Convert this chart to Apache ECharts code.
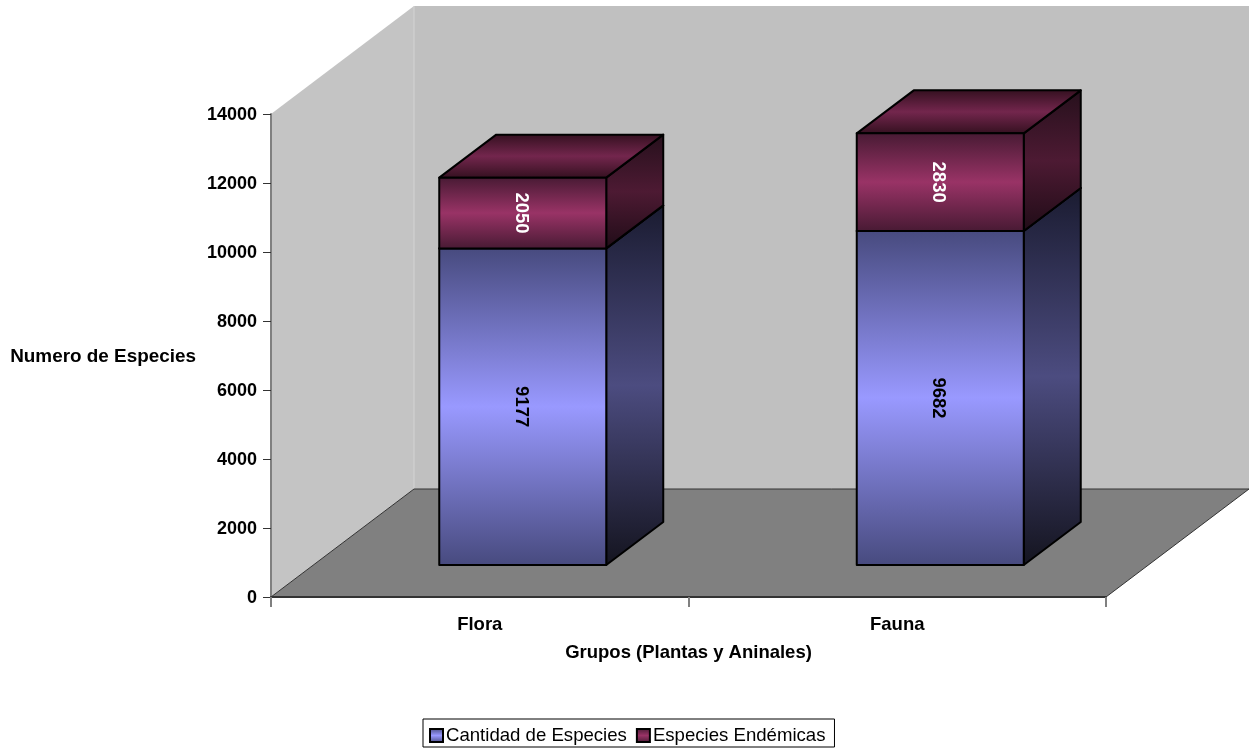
<!DOCTYPE html>
<html>
<head>
<meta charset="utf-8">
<style>html,body{margin:0;padding:0;background:#fff}#c{width:1249px;height:748px}</style>
<script src="https://cdn.jsdelivr.net/npm/echarts@6/dist/echarts.min.js"></script>
</head>
<body>
<div id="c"></div>
<script>
const categories = ['Flora', 'Fauna'];
const cantidadEspecies = [9177, 9682];
const especiesEndemicas = [2050, 2830];
const yTicks = { min: 0, max: 14000, interval: 2000 };

// Oblique projection of the depth axis, in pixels
const WALL_DEPTH = [143, 108];
const BAR_OFFSET = [43, 32];
const BAR_DEPTH = [57, 43];
const FONT = '"Liberation Sans", Arial, sans-serif';

function bands(edge, mid, edge2) {
  return { type: 'linear', x: 0, y: 0, x2: 0, y2: 1, colorStops: [
    { offset: 0, color: edge }, { offset: 0.5, color: mid }, { offset: 1, color: edge2 || edge }
  ] };
}

const blue = {
  front: bands('#474a7e', '#9999ff'),
  side: bands('#1a1b30', '#4c4c80', '#14141f'),
  top: bands('#1a1b30', '#4c4c80')
};
const maroon = {
  front: bands('#471a33', '#993366'),
  side: bands('#26101c', '#4d1a33', '#200c17'),
  top: bands('#33101f', '#73264d')
};

function barRenderer(bases, palette, labelColor) {
  return function (params, api) {
    const i = api.value(0);
    const base = bases[i];
    const val = api.value(1);
    const halfWidth = api.size([1, 0])[0] * 0.4 / 2;
    const low = api.coord([i, base]);
    const high = api.coord([i, base + val]);
    const x0 = low[0] + BAR_OFFSET[0] - halfWidth;
    const x1 = low[0] + BAR_OFFSET[0] + halfWidth;
    const yb = low[1] - BAR_OFFSET[1];
    const yt = high[1] - BAR_OFFSET[1];
    const [dx, dy] = BAR_DEPTH;
    const edge = { stroke: '#000', lineWidth: 2, lineJoin: 'round' };
    const poly = (points, fill) => ({
      type: 'polygon', shape: { points },
      style: Object.assign({ fill }, edge)
    });
    return {
      type: 'group',
      children: [
        poly([[x1, yt], [x1 + dx, yt - dy], [x1 + dx, yb - dy], [x1, yb]], palette.side),
        poly([[x0, yt], [x0 + dx, yt - dy], [x1 + dx, yt - dy], [x1, yt]], palette.top),
        poly([[x0, yt], [x1, yt], [x1, yb], [x0, yb]], palette.front),
        {
          type: 'text', x: (x0 + x1) / 2 - 2, y: (yt + yb) / 2, rotation: -Math.PI / 2,
          style: {
            text: String(val), fill: labelColor, font: 'bold 18.5px ' + FONT,
            align: 'center', verticalAlign: 'middle'
          },
          z2: 10
        }
      ]
    };
  };
}

function renderWalls(params, api) {
  const cs = params.coordSys;
  const [dx, dy] = WALL_DEPTH;
  const l = cs.x, r = cs.x + cs.width, t = cs.y, b = cs.y + cs.height;
  return {
    type: 'group',
    children: [
      { type: 'polygon', shape: { points: [[l + dx, t - dy], [r + dx, t - dy], [r + dx, b - dy], [l + dx, b - dy]] },
        style: { fill: '#c0c0c0' } },
      { type: 'polygon', shape: { points: [[l, t], [l + dx, t - dy], [l + dx, b - dy], [l, b]] },
        style: { fill: '#c4c4c4' } },
      { type: 'line', shape: { x1: l + dx, y1: t - dy, x2: l + dx, y2: b - dy },
        style: { stroke: '#d4d4d4', lineWidth: 1 } },
      { type: 'polygon', shape: { points: [[l, b], [l + dx, b - dy], [r + dx, b - dy], [r, b]] },
        style: { fill: '#808080', stroke: '#333', lineWidth: 1 } }
    ]
  };
}

const chart = echarts.init(document.getElementById('c'), null, { renderer: 'canvas' });
chart.setOption({
  animation: false,
  backgroundColor: '#fff',
  grid: { left: 271, top: 114, width: 835, height: 483 },
  legend: {
    left: 423, top: 719, orient: 'horizontal',
    data: [
      { name: 'Cantidad de Especies', itemStyle: { color: bands('#474a7e', '#9999ff'), borderColor: '#000', borderWidth: 2 } },
      { name: 'Especies Endémicas', itemStyle: { color: bands('#471a33', '#993366'), borderColor: '#000', borderWidth: 2 } }
    ],
    icon: 'rect', itemWidth: 13, itemHeight: 13, itemGap: 9,
    padding: [7, 9, 2, 6],
    borderColor: '#000', borderWidth: 1, backgroundColor: '#fff',
    textStyle: { fontFamily: FONT, fontSize: 18.6, color: '#000', padding: [0, 0, 0, -2] }
  },
  xAxis: {
    type: 'category', data: categories, z: 10,
    name: 'Grupos (Plantas y Aninales)', nameLocation: 'middle', nameGap: 46,
    nameTextStyle: { fontFamily: FONT, fontWeight: 'bold', fontSize: 18.5, color: '#000' },
    axisLine: { show: true, lineStyle: { color: '#333', width: 2 } },
    axisTick: { show: true, alignWithLabel: false, length: 10, lineStyle: { color: '#808080', width: 2 } },
    axisLabel: { fontFamily: FONT, fontWeight: 'bold', fontSize: 18.5, color: '#000', margin: 18 },
    splitLine: { show: false }
  },
  yAxis: {
    type: 'value', min: yTicks.min, max: yTicks.max, interval: yTicks.interval, z: 10,
    name: 'Numero de Especies', nameLocation: 'middle', nameRotate: 0, nameGap: 75,
    nameTextStyle: { fontFamily: FONT, fontWeight: 'bold', fontSize: 18.9, color: '#000', verticalAlign: 'top', padding: [-8, 0, 0, 0] },
    axisLine: { show: true, lineStyle: { color: '#808080', width: 2 } },
    axisTick: { show: true, length: 8, lineStyle: { color: '#333', width: 1 } },
    axisLabel: { fontFamily: FONT, fontWeight: 'bold', fontSize: 18, color: '#000', margin: 14, verticalAlign: 'top', padding: [-8, 0, 0, 0], formatter: v => String(v) },
    splitLine: { show: false }
  },
  series: [
    { type: 'custom', name: 'walls', silent: true, data: [[0, 0]], z: 1, renderItem: renderWalls },
    {
      type: 'custom', name: 'Cantidad de Especies', z: 2,
      data: cantidadEspecies.map((v, i) => [i, v]),
      itemStyle: { color: '#9999ff' },
      renderItem: barRenderer(categories.map(() => 0), blue, '#000')
    },
    {
      type: 'custom', name: 'Especies Endémicas', z: 3,
      data: especiesEndemicas.map((v, i) => [i, v]),
      itemStyle: { color: '#993366' },
      renderItem: barRenderer(cantidadEspecies, maroon, '#fff')
    }
  ]
});
</script>
</body>
</html>
